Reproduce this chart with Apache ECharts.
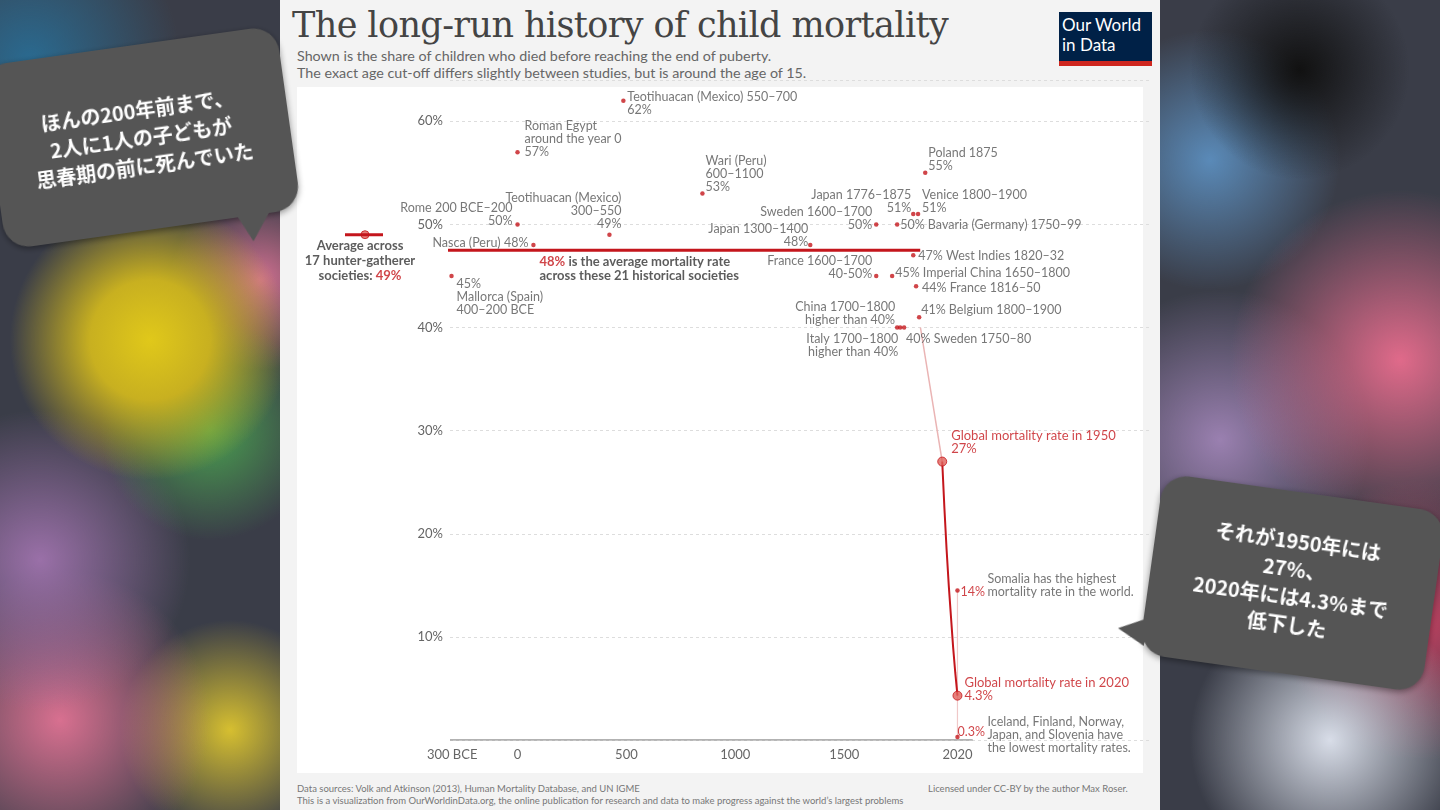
<!DOCTYPE html>
<html><head><meta charset="utf-8">
<script src="https://cdn.jsdelivr.net/npm/echarts@6/dist/echarts.min.js"></script>
<style>
html,body{margin:0;width:1440px;height:810px;overflow:hidden;font-family:Lato,sans-serif}
body{background:
radial-gradient(circle at 150px 340px,#e0c81a 0,#c8b020 60px,rgba(160,150,30,0) 140px),
radial-gradient(circle at 210px 430px,#4aa050 0,rgba(70,150,80,0) 110px),
radial-gradient(circle at 30px 60px,#2a6a90 0,rgba(40,100,140,0) 150px),
radial-gradient(circle at 260px 280px,#d07090 0,rgba(200,100,140,0) 90px),
radial-gradient(circle at 40px 560px,#9a70a8 0,rgba(140,100,160,0) 150px),
radial-gradient(circle at 60px 720px,#d87090 0,rgba(200,90,120,0) 150px),
radial-gradient(circle at 230px 730px,#d6bf30 0,rgba(200,180,40,0) 110px),
radial-gradient(circle at 1400px 360px,#e06a8a 0,rgba(220,100,130,0) 170px),
radial-gradient(circle at 1300px 70px,#111 0,rgba(20,20,20,0) 110px),
radial-gradient(circle at 1210px 160px,#5a8ab8 0,rgba(80,130,180,0) 130px),
radial-gradient(circle at 1220px 440px,#9a80b0 0,rgba(140,110,170,0) 150px),
radial-gradient(circle at 1330px 740px,#d8dde8 0,rgba(200,210,230,0) 140px),
radial-gradient(circle at 1420px 620px,#c04060 0,rgba(190,60,90,0) 140px),
#3a3d48;}
#panel{position:absolute;left:280px;top:0;width:880px;height:810px;background:#f3f3f3}
#plotbg{position:absolute;left:297px;top:87px;width:846px;height:686px;background:#fff}
#title{position:absolute;left:292px;top:5px;font-family:"DejaVu Serif",serif;font-size:35px;color:#444;letter-spacing:-0.6px}
.sub{position:absolute;left:297px;font-size:14.3px;color:#666}
#logo{position:absolute;left:1059px;top:12px;width:93px;height:54px;background:#002147;color:#fff;font-size:17px;line-height:20px;padding:3px 0 0 0;box-sizing:border-box;text-align:left}
#logo span{display:block;padding-left:3px}
#logo:after{content:"";position:absolute;left:0;bottom:0;width:100%;height:5px;background:#ce261e}
.foot{position:absolute;font-size:9.5px;color:#777}
#chart{position:absolute;left:0;top:0;width:1440px;height:810px}
.bub{position:absolute;background:#555;color:#fff;font-family:"Noto Sans CJK JP",sans-serif;font-weight:bold;font-size:20px;line-height:28px;text-align:center;border-radius:26px;display:flex;align-items:center;justify-content:center;z-index:5;box-shadow:0 2px 6px rgba(0,0,0,.4)}
.bub:after{content:"";position:absolute;width:0;height:0}
#b1{left:-8px;top:45px;width:298px;height:185px;transform:rotate(-8deg)}
#b1:after{right:30px;bottom:-26px;border-left:14px solid transparent;border-right:22px solid transparent;border-top:30px solid #555}
#b2{left:1150px;top:492px;width:285px;height:182px;transform:rotate(8deg)}
#b2:after{bottom:8px;border-top:14px solid transparent;border-bottom:14px solid transparent;border-right:28px solid #555;left:-24px}
</style></head><body>
<div id="panel"></div><div id="plotbg"></div>
<div id="title">The long-run history of child mortality</div>
<div class="sub" style="top:47px">Shown is the share of children who died before reaching the end of puberty.</div>
<div class="sub" style="top:64px">The exact age cut-off differs slightly between studies, but is around the age of 15.</div>
<div id="logo"><span>Our World</span><span>in Data</span></div>
<div class="foot" style="left:297px;top:783px">Data sources: Volk and Atkinson (2013), Human Mortality Database, and UN IGME</div>
<div class="foot" style="left:297px;top:795px">This is a visualization from OurWorldinData.org, the online publication for research and data to make progress against the world’s largest problems</div>
<div class="foot" style="left:928px;top:783px">Licensed under CC-BY by the author Max Roser.</div>
<div id="chart"></div>
<div class="bub" id="b1">ほんの200年前まで、<br>2人に1人の子どもが<br>思春期の前に死んでいた</div>
<div class="bub" id="b2">それが1950年には<br>27%、<br>2020年には4.3%まで<br>低下した</div>
<script>
// historical societies
const histLabels=["Teotihuacan (Mexico) 550–700\n62%","Roman Egypt\naround the year 0\n57%","Wari (Peru)\n600–1100\n53%","Teotihuacan (Mexico)\n300–550\n49%","Rome 200 BCE–200\n50%","Nasca (Peru) 48%","45%\nMallorca (Spain)\n400–200 BCE","Japan 1300–1400\n48%","France 1600–1700\n40-50%","Sweden 1600–1700\n50%","Japan 1776–1875\n51%","Venice 1800–1900\n51%","Poland 1875\n55%","50% Bavaria (Germany) 1750–99","47% West Indies 1820–32","45% Imperial China 1650–1800","44% France 1816–50","41% Belgium 1800–1900","China 1700–1800\nhigher than 40%","Italy 1700–1800\nhigher than 40%","40% Sweden 1750–80"];
const histYears=[486,0,849,422,0,73,-303,1344,1647,1647,1817,1839,1872,1743,1817,1720,1830,1844,1743,1757,1775];
const histValues=[62,57,53,49,50,48,45,48,45,50,51,51,55,50,47,45,44,41,40,40,40];
const histAverage=47.5, avgStart=-399, avgEnd=1849;
const hunterAverage=49, hunterLow=45, hunterHigh=83; // positions on small auxiliary axis
const globalYears=[1950,1960,1970,1980,1990,2000,2010,2020];
const globalValues=[27,22.5,18.5,15,12,9,6.5,4.3];
const bridgeYears=[1850,1950], bridgeValues=[40,27];
const somalia=[2020,14.5], lowest=[2020,0.3];
const xTicks=[-300,0,500,1000,1500,2020];
const yTicks=[10,20,30,40,50,60];

const place=[[4,-10,'left','top'],[7,-33,'left','top'],[3,-39,'left','top'],[12,-43,'right','top'],[-5,-23,'right','top'],[-5,-2,'right','middle'],[5,2,'left','top'],[-2,-23,'right','top'],[-4,-21,'right','top'],[-4,-19,'right','top'],[-2,-26,'right','top'],[4,-26,'left','top'],[3,-26,'left','top'],[3,1,'left','middle'],[5,1,'left','middle'],[3,-3,'left','middle'],[6,2,'left','middle'],[2,-7,'left','middle'],[-2,-27,'right','top'],[-2,5,'right','top'],[2,11,'left','middle']];
const RED='#c4161c', TXT='#555', F='Lato';
const lbl=(t,p,c,extra)=>Object.assign({show:true,position:'inside',formatter:t,offset:[p[0],p[1]],align:p[2],verticalAlign:p[3],color:c||TXT,fontFamily:F,fontSize:12.5,lineHeight:13},extra||{});

const histData=histYears.map((y,i)=>({value:[y,histValues[i]],label:lbl(histLabels[i],place[i])}));
const chart=echarts.init(document.getElementById('chart'),null,{renderer:'canvas'});
chart.setOption({
 backgroundColor:'transparent',animation:false,
 grid:[{left:450,right:290,top:80,bottom:70},{left:300,width:100,top:80,bottom:70}],
 xAxis:[{type:'value',min:-310,max:2904,gridIndex:0,splitLine:{show:false},axisLine:{show:false},axisTick:{show:false},
   axisLabel:{customValues:xTicks,color:'#666',fontSize:13,fontFamily:F,margin:8,formatter:v=>v<0?(-v)+' BCE':String(v)}},
  {type:'value',min:0,max:100,gridIndex:1,show:false}],
 yAxis:[{type:'value',min:0,max:64,interval:10,gridIndex:0,axisLine:{show:false},axisTick:{show:false},
   axisLabel:{color:'#666',fontSize:13,fontFamily:F,margin:7,formatter:v=>yTicks.includes(v)?v+'%':''},
   splitLine:{lineStyle:{type:[3,3],color:'#ddd'}}},
  {type:'value',min:0,max:64,gridIndex:1,show:false}],
 series:[
  {type:'line',data:[[-310,0],[2090,0]],symbol:'none',lineStyle:{color:'#999',width:1.5},silent:true,z:1},
  {type:'line',data:[[avgStart,histAverage],[avgEnd,histAverage]],symbol:'none',lineStyle:{color:RED,width:3},z:2},
  {type:'line',data:bridgeYears.map((y,i)=>[y,bridgeValues[i]]),symbol:'none',lineStyle:{color:'#eab4b4',width:1.5},z:2},
  {type:'line',data:[somalia,lowest],symbol:'none',lineStyle:{color:'#f0c8c8',width:1.2},z:2},
  {type:'line',data:globalYears.map((y,i)=>[y,globalValues[i]]),symbol:'none',lineStyle:{color:RED,width:2},z:3},
  {type:'scatter',symbolSize:4.5,itemStyle:{color:RED},data:histData,z:4},
  {type:'scatter',symbolSize:9,itemStyle:{color:'#e0605a',borderColor:RED,borderWidth:1},z:5,data:[
    {value:[globalYears[0],globalValues[0]],label:lbl('Global mortality rate in 1950\n27%',[9,-32,'left','top'],RED,{fontSize:13,lineHeight:13})},
    {value:[globalYears[7],globalValues[7]],label:lbl('Global mortality rate in 2020\n4.3%',[7,-19,'left','top'],RED,{fontSize:13,lineHeight:13})}]},
  {type:'scatter',symbolSize:4.5,itemStyle:{color:RED},z:5,data:[
    {value:somalia,label:lbl('14%',[3,1,'left','middle'],RED)},
    {value:lowest,label:lbl('0.3%',[0,-5,'left','middle'],RED)}]},
  {type:'scatter',symbolSize:0,z:5,data:[
    {value:somalia,label:lbl('Somalia has the highest\nmortality rate in the world.',[30,-18,'left','top'])},
    {value:lowest,label:lbl('Iceland, Finland, Norway,\nJapan, and Slovenia have\nthe lowest mortality rates.',[30,-21,'left','top'])},
    {value:[101,histAverage],label:lbl('{r|48%} is the average mortality rate\nacross these 21 historical societies',[0,5,'left','top'],'#333',{fontWeight:'bold',fontSize:13,lineHeight:14,rich:{r:{color:RED,fontWeight:'bold',fontSize:13,fontFamily:F}}})}]},
  {type:'line',xAxisIndex:1,yAxisIndex:1,data:[[hunterLow,hunterAverage],[hunterHigh,hunterAverage]],symbol:'none',lineStyle:{color:RED,width:3}},
  {type:'scatter',xAxisIndex:1,yAxisIndex:1,symbolSize:8,itemStyle:{color:'#e0605a',borderColor:RED,borderWidth:1},
   data:[{value:[65,hunterAverage],label:lbl('Average across\n17 hunter-gatherer\nsocieties: {r|49%}',[-5,4,'center','top'],'#333',{fontWeight:'bold',fontSize:13,lineHeight:15,rich:{r:{color:RED,fontWeight:'bold',fontSize:13,fontFamily:F}}})}]}
 ]
});
</script></body></html>
